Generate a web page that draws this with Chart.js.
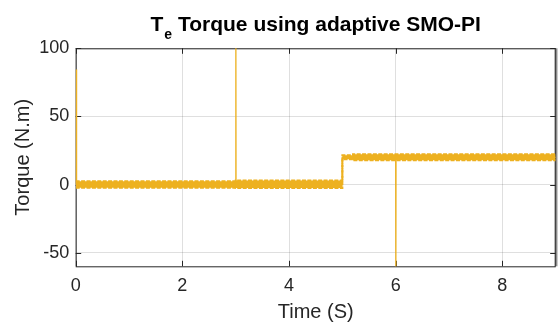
<!DOCTYPE html>
<html><head><meta charset="utf-8">
<script src="https://cdn.jsdelivr.net/npm/chart.js@4/dist/chart.umd.min.js"></script>
<style>html,body{margin:0;padding:0;background:#fff}#wrap{width:559px;height:324px}</style>
</head><body><div id="wrap"><canvas id="c" width="559" height="324"></canvas></div>
<script>
const timeTicks = [0, 2, 4, 6, 8];
const torqueTicks = [-50, 0, 50, 100];

// electromagnetic torque: start-up transient, disturbances at 3 s and 6 s, load step at 5 s
const traceTime   = [0, 0.008, 0.016, 3, 3.003, 3.006, 5, 5, 6, 6.003, 6.006, 9];
const traceTorque = [0, 84.5, 0, 0, 110, 0, 0, 20, 20, -70, 20, 20];

// switching ripple band around the torque (upper / lower envelope)
const rippleTime = [0, 3, 3, 5, 5, 5.2, 5.2, 9];
const rippleHigh = [2.5, 2.5, 2.9, 2.9, 21.5, 21.5, 22.2, 22.2];
const rippleLow  = [-2.3, -2.3, -2.6, -2.6, 18.5, 18.5, 17.8, 17.8];

const GOLD = '#EDB120';
const INK = '#262626';
const pts = (xs, ys) => xs.map((x, i) => ({x, y: ys[i]}));

const frame = {
  id: 'frame',
  beforeDatasetsDraw(chart) {
    const {ctx, chartArea: a, scales: {x, y}} = chart;
    ctx.save();
    // right edge shade
    ctx.strokeStyle = '#8c8c8c';
    ctx.lineWidth = 2.5;
    ctx.beginPath(); ctx.moveTo(a.right + 0.5, a.top); ctx.lineTo(a.right + 0.5, a.bottom); ctx.stroke();
    // axes box
    ctx.strokeStyle = INK;
    ctx.lineWidth = 1;
    ctx.strokeRect(a.left + 0.5, a.top + 0.5, a.right - a.left - 1, a.bottom - a.top);
    // inward tick marks on all four sides
    const L = 5.5;
    ctx.beginPath();
    timeTicks.forEach(v => {
      const px = Math.round(x.getPixelForValue(v)) + 0.5;
      ctx.moveTo(px, a.bottom); ctx.lineTo(px, a.bottom - L);
      ctx.moveTo(px, a.top); ctx.lineTo(px, a.top + L);
    });
    torqueTicks.forEach(v => {
      const py = Math.round(y.getPixelForValue(v)) + 0.5;
      ctx.moveTo(a.left, py); ctx.lineTo(a.left + L, py);
      ctx.moveTo(a.right, py); ctx.lineTo(a.right - L, py);
    });
    ctx.stroke();
    ctx.restore();
  },
  afterDraw(chart) {
    const {ctx, chartArea: a} = chart;
    ctx.save();
    // title with subscript
    const cx = (a.left + a.right) / 2;
    const big = 'bold 21px "Liberation Sans", Arial, sans-serif';
    const small = 'bold 14px "Liberation Sans", Arial, sans-serif';
    ctx.fillStyle = '#000';
    ctx.textBaseline = 'alphabetic';
    ctx.textAlign = 'left';
    ctx.font = big;
    const wT = ctx.measureText('T').width;
    const wRest = ctx.measureText(' Torque using adaptive SMO-PI').width;
    ctx.font = small;
    const wE = ctx.measureText('e').width;
    const sx = cx - (wT + 1 + wE + wRest) / 2;
    ctx.font = big;
    ctx.fillText('T', sx, 31);
    ctx.font = small;
    ctx.fillText('e', sx + wT + 1, 38.5);
    ctx.font = big;
    ctx.fillText(' Torque using adaptive SMO-PI', sx + wT + 1 + wE, 31);

    // axis titles
    ctx.fillStyle = INK;
    ctx.font = '20px "Liberation Sans", Arial, sans-serif';
    ctx.textAlign = 'center';
    ctx.fillText('Time (S)', cx, 318);
    ctx.translate(29, (a.top + a.bottom) / 2);
    ctx.rotate(-Math.PI / 2);
    ctx.fillText('Torque (N.m)', 0, 0);
    ctx.restore();
  }
};

new Chart(document.getElementById('c'), {
  type: 'line',
  data: {
    datasets: [
      { data: pts(rippleTime, rippleHigh), borderColor: GOLD, borderWidth: 2, borderDash: [4, 1.4], fill: false, pointRadius: 0 },
      { data: pts(rippleTime, rippleLow), borderColor: GOLD, borderWidth: 2, borderDash: [4, 1.4], fill: '-1', backgroundColor: GOLD, pointRadius: 0 },
      { data: pts(traceTime, traceTorque), borderColor: GOLD, borderWidth: 1.3, fill: false, pointRadius: 0 }
    ]
  },
  options: {
    responsive: false,
    animation: false,
    layout: { padding: { left: 0, right: 3.3, top: 48.3, bottom: 0 } },
    plugins: { legend: { display: false }, tooltip: { enabled: false }, title: { display: false } },
    elements: { line: { tension: 0 } },
    scales: {
      x: {
        type: 'linear', min: 0, max: 9,
        afterBuildTicks: s => { s.ticks = timeTicks.map(v => ({value: v})); },
        afterFit: s => { s.height = 57.7; },
        grid: { color: 'rgba(38,38,38,0.15)', drawTicks: false },
        border: { display: false },
        ticks: { color: INK, padding: 9, font: { size: 18, family: '"Liberation Sans", Arial, sans-serif' }, maxRotation: 0 }
      },
      y: {
        type: 'linear', min: -60, max: 100,
        afterBuildTicks: s => { s.ticks = torqueTicks.map(v => ({value: v})); },
        afterFit: s => { s.width = 75.7; },
        grid: { color: 'rgba(38,38,38,0.15)', drawTicks: false },
        border: { display: false },
        ticks: { color: INK, padding: 6.5, font: { size: 18, family: '"Liberation Sans", Arial, sans-serif' } }
      }
    }
  },
  plugins: [frame]
});
</script>
</body></html>
